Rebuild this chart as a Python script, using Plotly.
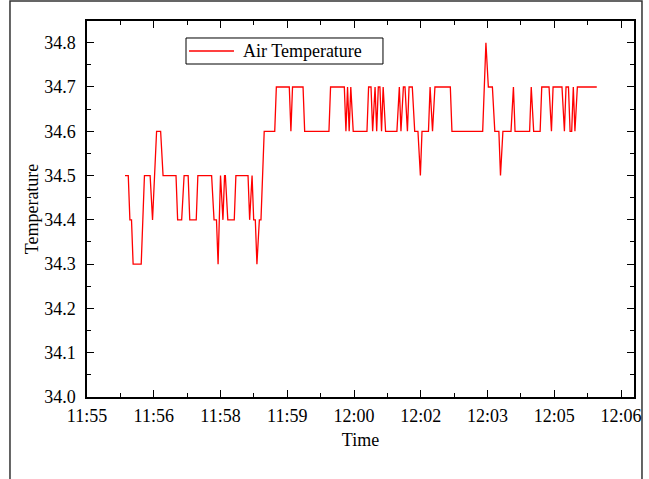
import plotly.graph_objects as go

# Time in seconds after 11:55:00, temperature values at each reading (corner points)
time_s = [47, 51, 53, 55, 57, 67, 71, 78, 81, 86, 91, 94, 110, 112, 117, 120, 125, 127, 135, 137,
          154, 157, 160, 162, 165, 168, 170, 171, 174, 182, 184, 199, 201, 204, 206, 208, 210, 213, 215, 219,
          232, 234, 250, 252, 254, 267, 269, 299, 301, 318, 320, 322, 324, 326, 329, 346, 348, 351, 353, 356,
          358, 360, 362, 364, 366, 369, 383, 386, 388, 391, 393, 396, 398, 402, 405, 409, 412, 414, 422, 424,
          427, 430, 449, 451, 489, 493, 496, 501, 504, 509, 511, 514, 524, 527, 529, 547, 549, 552, 560, 562,
          571, 574, 576, 587, 590, 592, 595, 597, 599, 601, 603, 606, 630]
temperature = [34.5, 34.5, 34.4, 34.4, 34.3, 34.3, 34.5, 34.5, 34.4, 34.6, 34.6, 34.5, 34.5, 34.4, 34.4, 34.5, 34.5, 34.4, 34.4, 34.5,
               34.5, 34.4, 34.4, 34.3, 34.5, 34.4, 34.5, 34.5, 34.4, 34.4, 34.5, 34.5, 34.4, 34.5, 34.4, 34.4, 34.3, 34.4, 34.4, 34.6,
               34.6, 34.7, 34.7, 34.6, 34.7, 34.7, 34.6, 34.6, 34.7, 34.7, 34.6, 34.7, 34.6, 34.7, 34.6, 34.6, 34.7, 34.7, 34.6, 34.7,
               34.6, 34.7, 34.7, 34.6, 34.7, 34.6, 34.6, 34.7, 34.6, 34.7, 34.7, 34.6, 34.7, 34.7, 34.6, 34.6, 34.5, 34.6, 34.6, 34.7,
               34.6, 34.7, 34.7, 34.6, 34.6, 34.8, 34.7, 34.7, 34.6, 34.6, 34.5, 34.6, 34.6, 34.7, 34.6, 34.6, 34.7, 34.6, 34.6, 34.7,
               34.7, 34.6, 34.7, 34.7, 34.6, 34.7, 34.7, 34.6, 34.6, 34.7, 34.6, 34.7, 34.7]

x_tick_seconds = [0, 82.5, 165, 247.5, 330, 412.5, 495, 577.5, 660]
x_tick_labels = ["11:55", "11:56", "11:58", "11:59", "12:00", "12:02", "12:03", "12:05", "12:06"]
y_ticks = [34.0, 34.1, 34.2, 34.3, 34.4, 34.5, 34.6, 34.7, 34.8]
series_name = "Air Temperature"

FONT = "Liberation Serif"
RED = "#ff0000"

fig = go.Figure()
fig.add_trace(go.Scatter(
    x=time_s, y=temperature, mode="lines", name=series_name,
    line=dict(color=RED, width=1.3), showlegend=False,
))

axis_common = dict(
    showline=True, linecolor="black", linewidth=1.5, mirror="ticks",
    ticks="inside", tickcolor="black", tickwidth=1, ticklen=7,
    showgrid=False, zeroline=False, automargin=False,
    tickfont=dict(family=FONT, size=18, color="black"),
)

fig.update_xaxes(
    range=[0, 676], tickmode="array", tickvals=x_tick_seconds, ticktext=x_tick_labels,
    minor=dict(ticks="inside", tick0=0, dtick=41.25, ticklen=4, tickcolor="black", tickwidth=1),
    title=dict(text="Time", font=dict(family=FONT, size=18, color="black"), standoff=8),
    ticklabelstandoff=2,
    **axis_common,
)
fig.update_yaxes(
    range=[34.0, 34.849], tickmode="array", tickvals=y_ticks, tickformat=".1f",
    minor=dict(ticks="inside", tick0=34.0, dtick=0.05, ticklen=4, tickcolor="black", tickwidth=1),
    title=dict(text="Temperature", font=dict(family=FONT, size=18, color="black"), standoff=1),
    ticklabelstandoff=6,
    **axis_common,
)

# Legend box drawn in paper coordinates
legend_shapes = [
    dict(type="rect", xref="paper", yref="paper", x0=0.181, x1=0.5411, y0=0.8856, y1=0.9548,
         line=dict(color="black", width=1), fillcolor="white", layer="above"),
    dict(type="line", xref="paper", yref="paper", x0=0.1865, x1=0.2687, y0=0.9202, y1=0.9202,
         line=dict(color=RED, width=1.3), layer="above"),
]

fig.update_layout(
    width=649, height=479,
    margin=dict(l=87, r=15, t=21, b=82),
    paper_bgcolor="white", plot_bgcolor="white",
    font=dict(family=FONT, size=18, color="black"),
    showlegend=False,
    shapes=[dict(
        type="rect", xref="paper", yref="paper",
        x0=-0.1408, x1=1.0146, y0=-0.25, y1=1.0532,
        line=dict(color="#333333", width=1.5), fillcolor="rgba(0,0,0,0)", layer="below",
    )] + legend_shapes,
    annotations=[dict(
        text=series_name, xref="paper", yref="paper", x=0.281, y=0.9202,
        xanchor="left", yanchor="middle", showarrow=False,
        font=dict(family=FONT, size=18, color="black"),
    )],
)

fig.write_html("out.html")
